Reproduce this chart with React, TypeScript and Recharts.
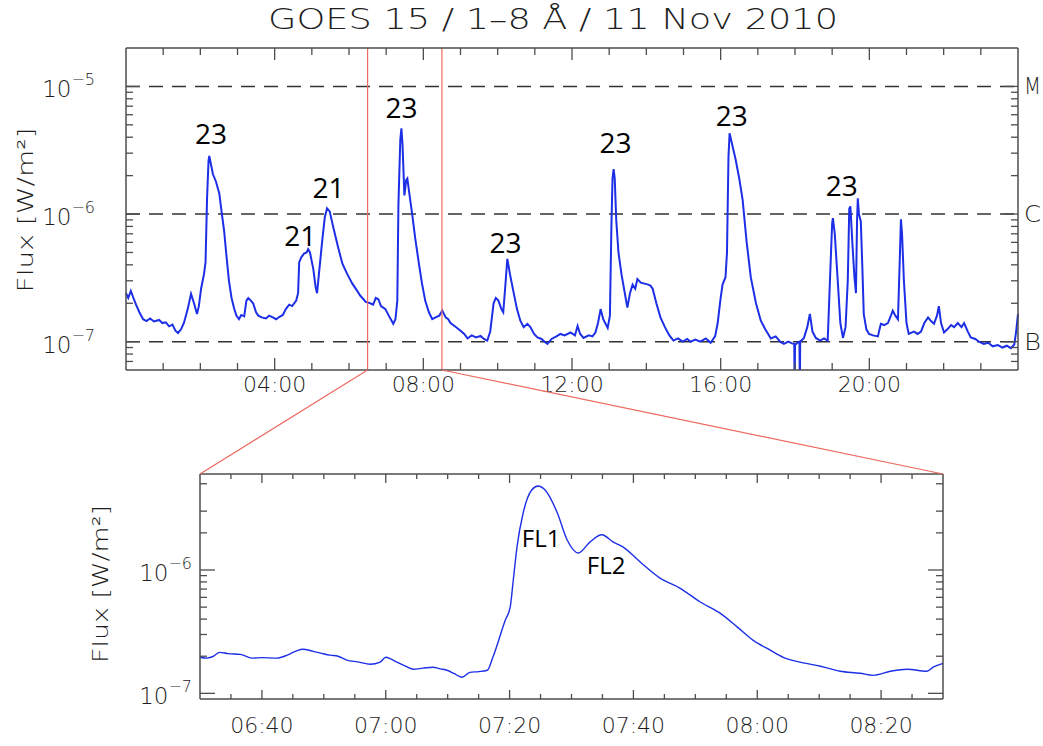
import React from "react";
import { LineChart, Line, XAxis, YAxis, ReferenceLine, ReferenceDot } from "recharts";

// GOES 15 1-8 A flux, 11 Nov 2010 (hours UT, W/m^2)
const dayHours = [
  0.0, 0.06, 0.13, 0.2, 0.27, 0.36, 0.46, 0.55, 0.65, 0.75, 0.89, 0.98, 1.07, 1.16, 1.25, 1.33, 1.4, 1.48, 1.56, 1.66,
  1.75, 1.83, 1.91, 1.96, 2.02, 2.1, 2.14, 2.18, 2.22, 2.24, 2.28, 2.34, 2.42, 2.51, 2.58, 2.64, 2.7, 2.77, 2.84, 2.91,
  2.97, 3.04, 3.1, 3.18, 3.24, 3.29, 3.36, 3.42, 3.5, 3.56, 3.65, 3.77, 3.85, 3.95, 4.04, 4.12, 4.22, 4.3, 4.39, 4.47,
  4.58, 4.63, 4.66, 4.72, 4.79, 4.86, 4.9, 4.95, 5.04, 5.1, 5.14, 5.2, 5.28, 5.35, 5.41, 5.48, 5.58, 5.7, 5.82, 5.95,
  6.09, 6.22, 6.3, 6.36, 6.45, 6.57, 6.65, 6.72, 6.79, 6.86, 6.98, 7.07, 7.15, 7.19, 7.25, 7.3, 7.33, 7.38, 7.41, 7.44,
  7.49, 7.54, 7.57, 7.63, 7.7, 7.78, 7.87, 7.96, 8.05, 8.15, 8.24, 8.33, 8.43, 8.51, 8.6, 8.67, 8.73, 8.85, 9.0, 9.1,
  9.19, 9.3, 9.42, 9.54, 9.63, 9.72, 9.8, 9.89, 9.95, 10.02, 10.1, 10.15, 10.2, 10.26, 10.33, 10.42, 10.52, 10.61, 10.7, 10.8,
  10.88, 10.98, 11.07, 11.18, 11.26, 11.34, 11.45, 11.58, 11.69, 11.8, 11.96, 12.08, 12.15, 12.22, 12.31, 12.45, 12.55, 12.63, 12.7, 12.77,
  12.84, 12.96, 13.02, 13.06, 13.09, 13.12, 13.15, 13.19, 13.25, 13.33, 13.42, 13.49, 13.56, 13.63, 13.7, 13.76, 13.85, 13.95, 14.05, 14.11,
  14.17, 14.27, 14.38, 14.5, 14.62, 14.73, 14.85, 14.98, 15.1, 15.19, 15.32, 15.45, 15.6, 15.73, 15.85, 15.92, 15.99, 16.05, 16.13, 16.17,
  16.21, 16.24, 16.32, 16.4, 16.5, 16.59, 16.7, 16.81, 16.95, 17.08, 17.2, 17.35, 17.48, 17.6, 17.7, 17.82, 17.92, 17.98, 17.99, 18.0,
  18.06, 18.12, 18.13, 18.14, 18.24, 18.33, 18.4, 18.47, 18.56, 18.68, 18.78, 18.88, 18.94, 19.0, 19.02, 19.07, 19.15, 19.22, 19.29, 19.36,
  19.42, 19.46, 19.49, 19.55, 19.6, 19.64, 19.67, 19.69, 19.72, 19.77, 19.81, 19.85, 19.92, 19.99, 20.1, 20.23, 20.31, 20.4, 20.5, 20.58,
  20.63, 20.7, 20.77, 20.82, 20.85, 20.88, 20.93, 21.0, 21.06, 21.2, 21.3, 21.39, 21.48, 21.58, 21.66, 21.74, 21.82, 21.87, 21.93, 22.01,
  22.1, 22.2, 22.28, 22.38, 22.48, 22.55, 22.65, 22.73, 22.85, 22.95, 23.08, 23.2, 23.32, 23.46, 23.58, 23.7, 23.81, 23.9, 23.95, 24.0,
];
const dayFlux = [
  2.4e-7, 2.2e-7, 2.5e-7, 2.2e-7, 1.95e-7, 1.7e-7, 1.5e-7, 1.45e-7, 1.52e-7, 1.44e-7, 1.48e-7, 1.4e-7, 1.42e-7, 1.32e-7, 1.36e-7, 1.22e-7, 1.17e-7, 1.25e-7, 1.41e-7, 1.8e-7,
  2.37e-7, 2.0e-7, 1.65e-7, 1.9e-7, 2.6e-7, 3.4e-7, 4.2e-7, 1.3e-6, 2.6e-6, 2.85e-6, 2.5e-6, 2.05e-6, 1.8e-6, 1.45e-6, 1.0e-6, 7.4e-7, 4.8e-7, 3.0e-7, 2.2e-7, 1.82e-7,
  1.6e-7, 1.5e-7, 1.62e-7, 1.58e-7, 2.1e-7, 2.2e-7, 2.1e-7, 2.0e-7, 1.7e-7, 1.6e-7, 1.55e-7, 1.52e-7, 1.6e-7, 1.55e-7, 1.5e-7, 1.56e-7, 1.62e-7, 1.8e-7, 1.95e-7, 1.9e-7,
  2.1e-7, 2.4e-7, 4.2e-7, 4.6e-7, 4.9e-7, 5.0e-7, 5.3e-7, 5.0e-7, 3.7e-7, 2.7e-7, 2.4e-7, 3.6e-7, 6.2e-7, 9.5e-7, 1.11e-6, 1.05e-6, 7.8e-7, 5.6e-7, 4.1e-7, 3.4e-7,
  2.85e-7, 2.5e-7, 2.3e-7, 2.2e-7, 2.05e-7, 2.0e-7, 1.95e-7, 2.2e-7, 2.15e-7, 1.9e-7, 1.8e-7, 1.6e-7, 1.45e-7, 1.38e-7, 1.5e-7, 2.1e-7, 1.2e-6, 3.8e-6, 4.7e-6, 3.5e-6,
  1.4e-6, 1.85e-6, 1.9e-6, 1.4e-6, 1.0e-6, 6.5e-7, 4.3e-7, 2.9e-7, 2.1e-7, 1.7e-7, 1.5e-7, 1.55e-7, 1.6e-7, 1.75e-7, 1.55e-7, 1.5e-7, 1.4e-7, 1.32e-7, 1.22e-7, 1.15e-7,
  1.06e-7, 1.12e-7, 1.08e-7, 1.11e-7, 1.05e-7, 1.02e-7, 1.2e-7, 2.0e-7, 2.2e-7, 2.1e-7, 1.8e-7, 1.7e-7, 2.6e-7, 4.45e-7, 3.4e-7, 2.5e-7, 1.8e-7, 1.46e-7, 1.3e-7, 1.38e-7,
  1.3e-7, 1.15e-7, 1.08e-7, 1.05e-7, 1.0e-7, 9.6e-8, 1.05e-7, 1.1e-7, 1.15e-7, 1.12e-7, 1.18e-7, 1.12e-7, 1.33e-7, 1.15e-7, 1.07e-7, 1.12e-7, 1.1e-7, 1.18e-7, 1.4e-7, 1.8e-7,
  1.5e-7, 1.28e-7, 1.6e-7, 8.0e-7, 1.9e-6, 2.25e-6, 1.9e-6, 9.0e-7, 5.0e-7, 3.4e-7, 2.4e-7, 1.85e-7, 2.4e-7, 2.8e-7, 2.6e-7, 3.1e-7, 2.9e-7, 2.85e-7, 2.8e-7, 2.75e-7,
  2.6e-7, 2.0e-7, 1.55e-7, 1.3e-7, 1.12e-7, 1.02e-7, 1.06e-7, 1.0e-7, 1.05e-7, 1.0e-7, 1.04e-7, 1.0e-7, 1.06e-7, 9.8e-8, 1.1e-7, 1.4e-7, 2.1e-7, 2.8e-7, 3.2e-7, 5.0e-7,
  2.8e-6, 4.3e-6, 3.4e-6, 2.7e-6, 1.9e-6, 1.3e-6, 6.0e-7, 3.2e-7, 2.0e-7, 1.46e-7, 1.25e-7, 1.06e-7, 1.1e-7, 1.0e-7, 9.6e-8, 1.0e-7, 9.7e-8, 9.6e-8, 4.0e-8, 9.4e-8,
  9.8e-8, 1.0e-7, 4.0e-8, 1.0e-7, 1.07e-7, 1.3e-7, 1.65e-7, 1.2e-7, 1.07e-7, 1.02e-7, 1.06e-7, 1.02e-7, 3.0e-7, 8.5e-7, 9.3e-7, 7.0e-7, 3.0e-7, 1.4e-7, 1.07e-7, 1.3e-7,
  3.0e-7, 1.1e-6, 1.15e-6, 5.5e-7, 3.2e-7, 2.4e-7, 9.0e-7, 1.33e-6, 1.0e-6, 8.8e-7, 4.0e-7, 1.65e-7, 1.25e-7, 1.15e-7, 1.12e-7, 1.1e-7, 1.38e-7, 1.35e-7, 1.4e-7, 1.6e-7,
  1.75e-7, 1.6e-7, 1.5e-7, 4.5e-7, 9.1e-7, 7.0e-7, 3.0e-7, 1.4e-7, 1.15e-7, 1.2e-7, 1.15e-7, 1.2e-7, 1.4e-7, 1.55e-7, 1.45e-7, 1.38e-7, 1.6e-7, 1.9e-7, 1.4e-7, 1.18e-7,
  1.25e-7, 1.35e-7, 1.3e-7, 1.4e-7, 1.3e-7, 1.4e-7, 1.2e-7, 1.08e-7, 1.05e-7, 1.0e-7, 9.6e-8, 9.8e-8, 9.2e-8, 9.4e-8, 9.0e-8, 9.3e-8, 8.9e-8, 9.5e-8, 1.2e-7, 1.65e-7,
];

// zoom window 06:30-08:30 (minutes of day)
const zoomMinutes = [
  390, 391, 392, 393.2, 394.5, 396.5, 398.4, 400, 402.4, 404.1, 405.5, 406.6, 408.3, 409.5, 411, 412.3, 413.7, 415.5, 417.5, 419.1,
  420, 420.8, 421.8, 423, 424.4, 426, 427.6, 428.8, 429.9, 431, 432.3, 433.6, 435, 436.4, 437.3, 439.3, 440.1, 440.6, 441.2, 442.2,
  443.6, 444.6, 445.7, 447.7, 449.3, 451.1, 453, 454.9, 456.7, 458.3, 461.1, 464.3, 467.5, 470.8, 474, 476.8, 479.3, 482.1, 484.2, 486.9,
  490.2, 493.4, 496.6, 498.7, 501.5, 504.2, 507.4, 508.4, 510,
];
const zoomFlux = [
  1.96e-7, 1.93e-7, 1.98e-7, 2.15e-7, 2.1e-7, 2.07e-7, 1.93e-7, 1.95e-7, 1.93e-7, 2.04e-7, 2.2e-7, 2.28e-7, 2.19e-7, 2.12e-7, 2.04e-7, 2.0e-7, 1.86e-7, 1.8e-7, 1.72e-7, 1.79e-7,
  1.96e-7, 1.9e-7, 1.79e-7, 1.68e-7, 1.57e-7, 1.6e-7, 1.63e-7, 1.58e-7, 1.54e-7, 1.45e-7, 1.35e-7, 1.48e-7, 1.5e-7, 1.54e-7, 1.96e-7, 3.92e-7, 5.0e-7, 8.3e-7, 1.54e-6, 2.91e-6,
  4.47e-6, 4.8e-6, 4.47e-6, 2.91e-6, 1.75e-6, 1.375e-6, 1.69e-6, 1.93e-6, 1.69e-6, 1.54e-6, 1.16e-6, 8.6e-7, 7.14e-7, 5.5e-7, 4.47e-7, 3.44e-7, 2.7e-7, 2.24e-7, 1.96e-7, 1.79e-7,
  1.66e-7, 1.51e-7, 1.455e-7, 1.4e-7, 1.51e-7, 1.57e-7, 1.51e-7, 1.63e-7, 1.75e-7,
];

const dayHourTicks = [1, 2, 3, 4, 5, 6, 7, 8, 9, 10, 11, 12, 13, 14, 15, 16, 17, 18, 19, 20, 21, 22, 23];
const dayLabelHours = [4, 8, 12, 16, 20];
const dayFluxTicks = [
  7e-8, 8e-8, 9e-8, 1e-7, 2e-7, 3e-7, 4e-7, 5e-7, 6e-7, 7e-7, 8e-7, 9e-7,
  1e-6, 2e-6, 3e-6, 4e-6, 5e-6, 6e-6, 7e-6, 8e-6, 9e-6, 1e-5,
];
const zoomMinuteTicks = [395, 400, 405, 410, 415, 420, 425, 430, 435, 440, 445, 450, 455, 460, 465, 470, 475, 480, 485, 490, 495, 500, 505];
const zoomLabelMinutes = [400, 420, 440, 460, 480, 500];
const zoomFluxTicks = [1e-7, 2e-7, 3e-7, 4e-7, 5e-7, 6e-7, 7e-7, 8e-7, 9e-7, 1e-6, 2e-6, 3e-6, 5e-6];

const classLevels = [1e-7, 1e-6, 1e-5];
const classNames = ["B", "C", "M"];

const peakHours = [2.29, 4.69, 5.45, 7.41, 10.21, 13.17, 16.3, 19.26];
const peakFlux = [4.3e-6, 6.9e-7, 1.63e-6, 6.9e-6, 6.0e-7, 3.65e-6, 6.0e-6, 1.69e-6];
const peakText = ["23", "21", "21", "23", "23", "23", "23", "23"];

const flareMinutes = [445.1, 455.6];
const flareFlux = [1.85e-6, 1.1e-6];
const flareText = ["FL1", "FL2"];

const zoomStart = 6.5;
const zoomEnd = 8.5;

const AXIS = "#4d4d4d";
const TEXT = "#1e1e1e";
const FONT = "DejaVu Sans, sans-serif";
const THIN = 200;
const BLUE = "#1c2fe6";
const RED = "#ee6a5f";

const pad = (n: number) => String(n).padStart(2, "0");
const hourLabel = (h: number) => `${pad(h)}:00`;
const minuteLabel = (m: number) => `${pad(Math.floor(m / 60))}:${pad(m % 60)}`;
const isDecade = (v: number) => Math.abs(Math.log10(v) - Math.round(Math.log10(v))) < 1e-6;

// layout of the two panels
const W = 1043;
const TOP = { left: 126, right: 1018, top: 48, bottom: 370 };
const BOT = { left: 200, right: 943, top: 474, bottom: 699 };

const xTick = (majors: number[], fmt: (v: number) => string, dir: number, bigLen: number, smallLen: number, dy: number) =>
  (p: any) => {
    const { x, y, payload } = p;
    const major = majors.includes(payload.value);
    return (
      <g>
        <line x1={x} x2={x} y1={y} y2={y + dir * (major ? bigLen : smallLen)} stroke={AXIS} strokeWidth={1.3} />
        {major && dy !== 0 && (
          <text x={x} y={y + dy} textAnchor="middle" dominantBaseline="central" fontFamily={FONT} fontWeight={THIN}
            fontSize={22} fill={TEXT}>
            {fmt(payload.value)}
          </text>
        )}
      </g>
    );
  };

const yTick = (dir: number, bigLen: number, smallLen: number, labelGap: number, side: string) =>
  (p: any) => {
    const { x, y, payload } = p;
    const major = isDecade(payload.value);
    const exp = Math.round(Math.log10(payload.value));
    const cls = classLevels.indexOf(payload.value);
    return (
      <g>
        <line x1={x} x2={x + dir * (major ? bigLen : smallLen)} y1={y} y2={y} stroke={AXIS} strokeWidth={1.3} />
        {major && side === "left" && (
          <text x={x - labelGap} y={y + 11} textAnchor="end" fontFamily={FONT} fontWeight={THIN} fontSize={23} fill={TEXT}>
            <tspan>10</tspan>
            <tspan dy={-12} fontSize={16}>{`−${-exp}`}</tspan>
          </text>
        )}
        {major && side === "right" && cls >= 0 && (
          <text x={x + 6} y={y} dominantBaseline="central" fontFamily={FONT} fontWeight={THIN} fontSize={23} fill={TEXT}
            textLength={17} lengthAdjust="spacingAndGlyphs">
            {classNames[cls]}
          </text>
        )}
      </g>
    );
  };

const textShape = (label: string, size: number) => (p: any) => (
  <text x={p.cx} y={p.cy} textAnchor="middle" dominantBaseline="central" fontFamily="Open Sans, sans-serif" fontSize={size} fill="#000">
    {label}
  </text>
);

const dayData = dayHours.map((t, i) => ({ t, flux: dayFlux[i] }));
const zoomData = zoomMinutes.map((t, i) => ({ t, flux: zoomFlux[i] }));
const axisLine = { stroke: AXIS, strokeWidth: 1.5 };

function DayPanel() {
  return (
    <LineChart width={W} height={400} data={dayData} margin={{ top: TOP.top - 10, right: 0, bottom: 0, left: 0 }}>
      <XAxis xAxisId="b" dataKey="t" type="number" domain={[0, 24]} ticks={dayHourTicks} interval={0} height={30}
        tickSize={0} tickMargin={0} tickLine={false} axisLine={axisLine} tick={xTick(dayLabelHours, hourLabel, -1, 12, 7, 14)} />
      <XAxis xAxisId="t" orientation="top" dataKey="t" type="number" domain={[0, 24]} ticks={dayHourTicks} interval={0} height={10}
        tickSize={0} tickMargin={0} tickLine={false} axisLine={axisLine} tick={xTick(dayLabelHours, hourLabel, 1, 12, 7, 0)} />
      <YAxis yAxisId="l" scale="log" type="number" domain={[6e-8, 2e-5]} allowDataOverflow ticks={dayFluxTicks} interval={0}
        width={TOP.left} tickSize={0} tickMargin={0} tickLine={false} axisLine={axisLine} tick={yTick(1, 14, 7, 31, "left")} />
      <YAxis yAxisId="r" orientation="right" scale="log" type="number" domain={[6e-8, 2e-5]} allowDataOverflow ticks={dayFluxTicks} interval={0}
        width={W - TOP.right} tickSize={0} tickMargin={0} tickLine={false} axisLine={axisLine} tick={yTick(-1, 14, 7, 0, "right")} />
      {classLevels.map((v) => (
        <ReferenceLine key={v} xAxisId="b" yAxisId="l" y={v} stroke="#333" strokeWidth={1.5} strokeDasharray="14 9" />
      ))}
      <Line xAxisId="t" yAxisId="r" dataKey="flux" stroke="none" dot={false} isAnimationActive={false} legendType="none" />
      <Line xAxisId="b" yAxisId="l" type="linear" dataKey="flux" stroke={BLUE} strokeWidth={2} dot={false} isAnimationActive={false} />
      <ReferenceLine xAxisId="b" yAxisId="l" x={zoomStart} stroke={RED} strokeWidth={1.2} />
      <ReferenceLine xAxisId="b" yAxisId="l" x={zoomEnd} stroke={RED} strokeWidth={1.2} />
      {peakText.map((s, i) => (
        <ReferenceDot key={i} xAxisId="b" yAxisId="l" x={peakHours[i]} y={peakFlux[i]} r={1} shape={textShape(s, 28)} />
      ))}
    </LineChart>
  );
}

function ZoomPanel() {
  return (
    <LineChart width={W} height={306} data={zoomData} margin={{ top: 24, right: 0, bottom: 0, left: 0 }}>
      <XAxis xAxisId="b" dataKey="t" type="number" domain={[390, 510]} ticks={zoomMinuteTicks} interval={0} height={47}
        tickSize={0} tickMargin={0} tickLine={false} axisLine={axisLine} tick={xTick(zoomLabelMinutes, minuteLabel, -1, 9, 5, 26)} />
      <XAxis xAxisId="t" orientation="top" dataKey="t" type="number" domain={[390, 510]} ticks={zoomMinuteTicks} interval={0} height={10}
        tickSize={0} tickMargin={0} tickLine={false} axisLine={axisLine} tick={xTick(zoomLabelMinutes, minuteLabel, 1, 9, 5, 0)} />
      <YAxis yAxisId="l" scale="log" type="number" domain={[9e-8, 6e-6]} allowDataOverflow ticks={zoomFluxTicks} interval={0}
        width={BOT.left} tickSize={0} tickMargin={0} tickLine={false} axisLine={axisLine} tick={yTick(1, 15, 7, 8, "left")} />
      <YAxis yAxisId="r" orientation="right" scale="log" type="number" domain={[9e-8, 6e-6]} allowDataOverflow ticks={zoomFluxTicks} interval={0}
        width={W - BOT.right} tickSize={0} tickMargin={0} tickLine={false} axisLine={axisLine} tick={yTick(-1, 15, 7, 0, "none")} />
      <Line xAxisId="t" yAxisId="r" dataKey="flux" stroke="none" dot={false} isAnimationActive={false} legendType="none" />
      <Line xAxisId="b" yAxisId="l" type="monotone" dataKey="flux" stroke={BLUE} strokeWidth={1.4} dot={false} isAnimationActive={false} />
      {flareText.map((s, i) => (
        <ReferenceDot key={i} xAxisId="b" yAxisId="l" x={flareMinutes[i]} y={flareFlux[i]} r={1} shape={textShape(s, 24)} />
      ))}
    </LineChart>
  );
}

export default function App() {
  const xDay = (h: number) => TOP.left + (h / 24) * (TOP.right - TOP.left);
  return (
    <div style={{ position: "absolute", left: 0, top: 0, width: W, height: 746, background: "#fff" }}>
      <div style={{ position: "absolute", left: 0, top: 0 }}>
        <DayPanel />
      </div>
      <div style={{ position: "absolute", left: 0, top: 440 }}>
        <ZoomPanel />
      </div>
      <svg width={W} height={746} style={{ position: "absolute", left: 0, top: 0, pointerEvents: "none" }}>
        <text x={553} y={29} textAnchor="middle" fontFamily={FONT} fontWeight={THIN} fontSize={29} fill={TEXT}
          textLength={570} lengthAdjust="spacingAndGlyphs">
          GOES 15 / 1–8 Å / 11 Nov 2010
        </text>
        <text transform="translate(25,210) rotate(-90)" textAnchor="middle" dominantBaseline="central"
          fontFamily={FONT} fontWeight={THIN} fontSize={22} fill={TEXT} textLength={165} lengthAdjust="spacingAndGlyphs">
          Flux [W/m²]
        </text>
        <text transform="translate(100,584) rotate(-90)" textAnchor="middle" dominantBaseline="central"
          fontFamily={FONT} fontWeight={THIN} fontSize={22} fill={TEXT} textLength={158} lengthAdjust="spacingAndGlyphs">
          Flux [W/m²]
        </text>
        <line x1={xDay(zoomStart)} y1={TOP.bottom} x2={BOT.left} y2={BOT.top} stroke={RED} strokeWidth={1.2} />
        <line x1={xDay(zoomEnd)} y1={TOP.bottom} x2={BOT.right} y2={BOT.top} stroke={RED} strokeWidth={1.2} />
      </svg>
    </div>
  );
}
